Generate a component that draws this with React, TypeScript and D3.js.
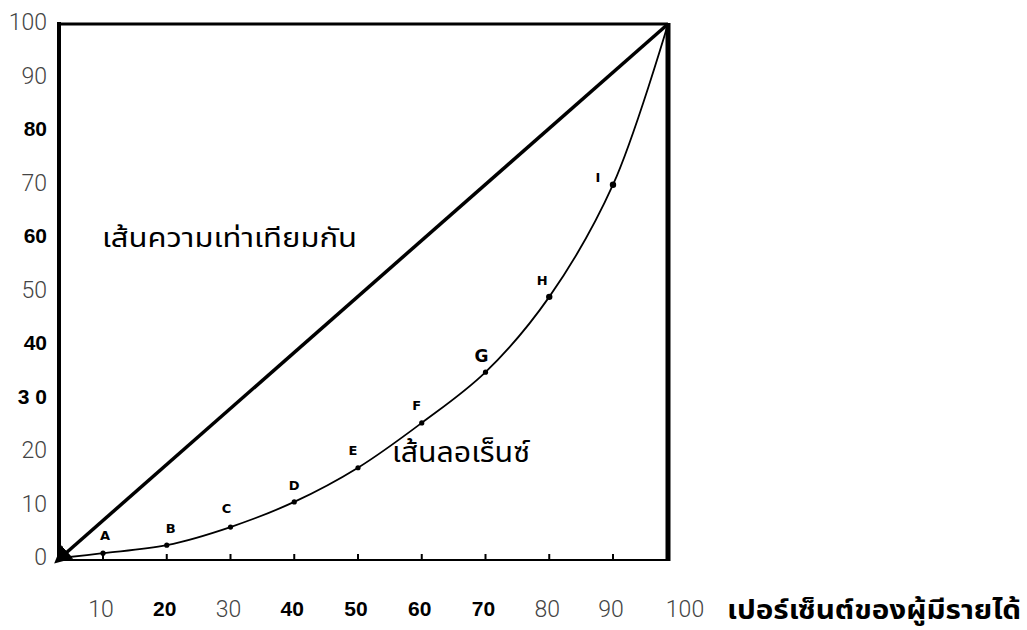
import React from "react";
import * as d3 from "d3";

// ---- data ----
const pointLabels = ["A", "B", "C", "D", "E", "F", "G", "H", "I"];
const populationPct = [10, 20, 30, 40, 50, 60, 70, 80, 90];
const incomePct = [0.9, 2.4, 5.8, 10.5, 16.9, 25.3, 34.8, 48.9, 69.9];
const xTickLabels = ["10", "20", "30", "40", "50", "60", "70", "80", "90", "100"];
const xTickValues = [10, 20, 30, 40, 50, 60, 70, 80, 90, 100];
const xTickBold = [false, true, false, true, true, true, true, false, false, false];
const yTickLabels = ["0", "10", "20", "3 0", "40", "50", "60", "70", "80", "90", "100"];
const yTickValues = [0, 10, 20, 30, 40, 50, 60, 70, 80, 90, 100];
const yTickBold = [false, false, false, true, true, false, true, false, true, false, false];
const equalityLabel = "เส้นความเท่าเทียมกัน";
const lorenzLabel = "เส้นลอเร็นซ์";
const xAxisTitle = "เปอร์เซ็นต์ของผู้มีรายได้";

const W = 1027;
const H = 630;

export default function App() {
  // plot scales (hand-drawn chart: slightly non-uniform spacing)
  const x = d3.scaleLinear().domain([0, 10, 90, 100]).range([60, 103, 613, 668]);
  const y = d3.scaleLinear().domain([0, 100]).range([558, 24]);
  // label scales
  const xl = d3.scaleLinear().domain([10, 90, 100]).range([101, 611, 685]);
  const yl = d3.scaleLinear().domain([0, 100]).range([557, 22]);

  const curvePts: [number, number][] = [[0, 0]];
  populationPct.forEach((p, i) => curvePts.push([p, incomePct[i]]));
  curvePts.push([100, 100]);

  const line = d3
    .line<[number, number]>()
    .x((d) => x(d[0]))
    .y((d) => y(d[1]))
    .curve(d3.curveCatmullRom.alpha(0.5));

  const thaiFont = "'Noto Sans Thai', 'Noto Serif Thai', 'Loma', 'Garuda', 'Norasi', 'DejaVu Sans', sans-serif";
  const numLight = "Roboto, 'Liberation Sans', sans-serif";
  const numBold = "'Liberation Sans', Arial, sans-serif";

  const labelOffsets: [number, number][] = [
    [2, -13], [4, -12], [-4, -14], [0, -12], [-5, -13], [-5, -13], [-4, -10], [-7, -12], [-15, -3],
  ];

  return (
    <svg
      width={W}
      height={H}
      style={{ position: "absolute", left: 0, top: 0, background: "#fff" }}
      xmlns="http://www.w3.org/2000/svg"
    >
      <defs>
        <marker
          id="arrow"
          viewBox="0 0 10 10"
          refX="1"
          refY="5"
          markerWidth="5"
          markerHeight="5"
          orient="auto-start-reverse"
        >
          <path d="M0,0 L10,5 L0,10 z" fill="#000" />
        </marker>
      </defs>
      <rect x={0} y={0} width={W} height={H} fill="#fff" />

      {/* frame */}
      <line x1={x(0) - 1} y1={y(100)} x2={x(100)} y2={y(100)} stroke="#000" strokeWidth={3} />
      <line x1={x(0) - 1} y1={y(100) - 2} x2={x(0) - 1} y2={560} stroke="#000" strokeWidth={4} />
      <line x1={x(100)} y1={y(100) - 1} x2={x(100)} y2={561} stroke="#000" strokeWidth={5} />
      <line x1={x(0)} y1={560} x2={x(100)} y2={560} stroke="#000" strokeWidth={2} />

      {/* ticks on baseline */}
      {xTickValues.slice(0, 9).map((v) => (
        <line key={"t" + v} x1={x(v)} y1={560} x2={x(v)} y2={554} stroke="#000" strokeWidth={2} />
      ))}

      {/* line of equality */}
      <line
        x1={x(100)}
        y1={y(100)}
        x2={x(0) + 6}
        y2={y(0) - 5}
        stroke="#000"
        strokeWidth={3.5}
        markerEnd="url(#arrow)"
      />

      {/* Lorenz curve */}
      <path d={line(curvePts) || ""} fill="none" stroke="#000" strokeWidth={1.8} />

      {populationPct.map((p, i) => (
        <g key={pointLabels[i]}>
          <circle cx={x(p)} cy={y(incomePct[i])} r={i >= 7 ? 3.2 : 2.6} fill="#000" />
          <text
            x={x(p) + labelOffsets[i][0]}
            y={y(incomePct[i]) + labelOffsets[i][1]}
            textAnchor="middle"
            fontFamily="'DejaVu Sans', sans-serif"
            fontSize={i === 6 ? 17 : 13}
            fontWeight="bold"
            fill="#000"
          >
            {pointLabels[i]}
          </text>
        </g>
      ))}

      {/* y labels */}
      {yTickValues.map((v, i) => (
        <text
          key={"y" + v}
          x={47}
          y={yl(v)}
          dy="0.35em"
          textAnchor="end"
          fontFamily={yTickBold[i] ? numBold : numLight}
          fontWeight={yTickBold[i] ? "bold" : 300}
          fontSize={yTickBold[i] ? 21 : 23}
          fill={yTickBold[i] ? "#000" : "#444"}
        >
          {yTickLabels[i]}
        </text>
      ))}

      {/* x labels */}
      {xTickValues.map((v, i) => (
        <text
          key={"x" + v}
          x={xl(v)}
          y={609}
          dy="0.35em"
          textAnchor="middle"
          fontFamily={xTickBold[i] ? numBold : numLight}
          fontWeight={xTickBold[i] ? "bold" : 300}
          fontSize={xTickBold[i] ? 21 : 23}
          fill={xTickBold[i] ? "#000" : "#444"}
        >
          {xTickLabels[i]}
        </text>
      ))}

      {/* Thai annotations */}
      <text
        x={102}
        y={247}
        fontFamily={thaiFont}
        fontSize={26}
        fill="#000"
        textLength={255}
        lengthAdjust="spacingAndGlyphs"
      >
        {equalityLabel}
      </text>
      <text
        x={392}
        y={462}
        fontFamily={thaiFont}
        fontSize={28}
        fill="#000"
        textLength={138}
        lengthAdjust="spacingAndGlyphs"
      >
        {lorenzLabel}
      </text>
      <text
        x={727}
        y={619}
        fontFamily={thaiFont}
        fontSize={27}
        fontWeight="bold"
        fill="#000"
        textLength={294}
        lengthAdjust="spacingAndGlyphs"
      >
        {xAxisTitle}
      </text>
    </svg>
  );
}
